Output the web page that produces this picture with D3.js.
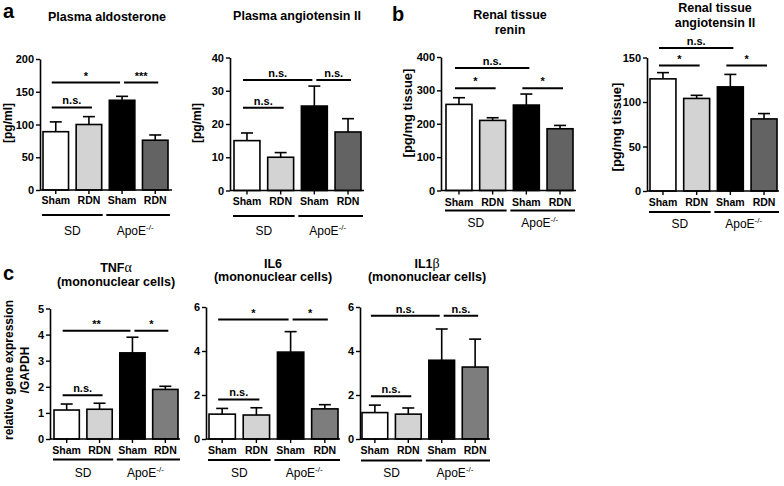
<!DOCTYPE html>
<html><head><meta charset="utf-8">
<script src="https://cdn.jsdelivr.net/npm/d3@7"></script>
<style>
body{margin:0;background:#fff}
text{font-family:"Liberation Sans",Arial,Helvetica,sans-serif}
</style>
</head><body>
<svg id="chart" width="784" height="486"></svg>
<script>
// ---------- data ----------
const categories = ["Sham", "RDN", "Sham", "RDN"];
const groups = ["SD", "ApoE"];

const aldoValues = [89, 100, 137, 76];
const aldoErrors = [15, 12, 6, 8];
const aldoTicks = [0, 50, 100, 150, 200];
const aldoSig = [
  {from: 0, to: 2, level: 164, label: "*"},
  {from: 2, to: 3, level: 164, label: "***"},
  {from: 0, to: 1, level: 126, label: "n.s."}
];

const angPlasmaValues = [15, 10, 25.4, 17.6];
const angPlasmaErrors = [2.3, 1.4, 6, 4];
const angPlasmaTicks = [0, 10, 20, 30, 40];
const angPlasmaSig = [
  {from: 0, to: 2, level: 33.2, label: "n.s."},
  {from: 2, to: 3, level: 33.2, label: "n.s."},
  {from: 0, to: 1, level: 24.9, label: "n.s."}
];

const reninValues = [258, 210, 256, 185];
const reninErrors = [20, 8, 33, 10];
const reninTicks = [0, 100, 200, 300, 400];
const reninSig = [
  {from: 0, to: 2, level: 367, label: "n.s."},
  {from: 0, to: 1, level: 306, label: "*"},
  {from: 2, to: 3, level: 306, label: "*"}
];

const angTissueValues = [126, 104, 117, 81];
const angTissueErrors = [7, 3.5, 14, 6];
const angTissueTicks = [0, 50, 100, 150];
const angTissueSig = [
  {from: 0, to: 2, level: 160.6, label: "n.s."},
  {from: 0, to: 1, level: 141, label: "*"},
  {from: 2, to: 3, level: 141, label: "*"}
];

const tnfValues = [1.11, 1.14, 3.3, 1.9];
const tnfErrors = [0.23, 0.23, 0.6, 0.12];
const tnfTicks = [0, 1, 2, 3, 4, 5];
const tnfSig = [
  {from: 0, to: 2, level: 4.15, label: "**"},
  {from: 2, to: 3, level: 4.15, label: "*"},
  {from: 0, to: 1, level: 1.68, label: "n.s."}
];

const il6Values = [1.13, 1.09, 3.95, 1.37];
const il6Errors = [0.26, 0.33, 0.93, 0.19];
const il6Ticks = [0, 2, 4, 6];
const il6Sig = [
  {from: 0, to: 2, level: 5.43, label: "*"},
  {from: 2, to: 3, level: 5.43, label: "*"},
  {from: 0, to: 1, level: 1.80, label: "n.s."}
];

const il1bValues = [1.2, 1.13, 3.58, 3.27];
const il1bErrors = [0.34, 0.28, 1.42, 1.27];
const il1bTicks = [0, 2, 4, 6];
const il1bSig = [
  {from: 0, to: 2, level: 5.6, label: "n.s."},
  {from: 2, to: 3, level: 5.6, label: "n.s."},
  {from: 0, to: 1, level: 1.94, label: "n.s."}
];

// ---------- layout ----------
const fillsAB = ["#ffffff", "#d3d3d3", "#000000", "#636363"];
const fillsC = ["#ffffff", "#d3d3d3", "#000000", "#7d7d7d"];

const panels = [
  {values: aldoValues, errors: aldoErrors, ticks: aldoTicks, sig: aldoSig, fills: fillsAB,
   ax: 40, xr: [43, 168], xEnd: 172, yr: [190, 59],
   title: [{t: "Plasma aldosterone", y: 21}], tx: 107,
   ylab: [{t: "[pg/ml]", x: 8}], ylabY: 123, ylabSize: 12,
   catPad: 3, groupLineY: 215, groupY: 235},
  {values: angPlasmaValues, errors: angPlasmaErrors, ticks: angPlasmaTicks, sig: angPlasmaSig, fills: fillsAB,
   ax: 230, xr: [234, 361], xEnd: 364, yr: [190.5, 57.5],
   title: [{t: "Plasma angiotensin II", y: 20}], tx: 297,
   ylab: [{t: "[pg/ml]", x: 197}], ylabY: 123, ylabSize: 12,
   catPad: 3, groupLineY: 216, groupY: 235},
  {values: reninValues, errors: reninErrors, ticks: reninTicks, sig: reninSig, fills: fillsAB,
   ax: 441, xr: [446, 573], xEnd: 576, yr: [190.5, 57],
   title: [{t: "Renal tissue", y: 19}, {t: "renin", y: 34}], tx: 510,
   ylab: [{t: "[pg/mg tissue]", x: 407}], ylabY: 113, ylabSize: 13,
   catPad: 4, groupLineY: 210.5, groupY: 227},
  {values: angTissueValues, errors: angTissueErrors, ticks: angTissueTicks, sig: angTissueSig, fills: fillsAB,
   ax: 647, xr: [650, 777], xEnd: 779, yr: [191, 57.5],
   title: [{t: "Renal tissue", y: 12}, {t: "angiotensin II", y: 27}], tx: 715,
   ylab: [{t: "[pg/mg tissue]", x: 616}], ylabY: 127, ylabSize: 13,
   catPad: 4, groupLineY: 212, groupY: 228},
  {values: tnfValues, errors: tnfErrors, ticks: tnfTicks, sig: tnfSig, fills: fillsC,
   ax: 50, xr: [54, 178], xEnd: 180, yr: [439, 308.5],
   title: [{t: "TNF", greek: "α", y: 272}, {t: "(mononuclear cells)", y: 286}], tx: 116,
   ylab: [{t: "relative gene expression", x: 9}, {t: "/GAPDH", x: 25}], ylabY: 370, ylabSize: 12,
   catPad: 4, groupLineY: 459.5, groupY: 477},
  {values: il6Values, errors: il6Errors, ticks: il6Ticks, sig: il6Sig, fills: fillsC,
   ax: 206, xr: [209, 338], xEnd: 340, yr: [439, 307],
   title: [{t: "IL6", y: 268}, {t: "(mononuclear cells)", y: 281}], tx: 273,
   ylab: [], catPad: 4, groupLineY: 460, groupY: 477},
  {values: il1bValues, errors: il1bErrors, ticks: il1bTicks, sig: il1bSig, fills: fillsC,
   ax: 360, xr: [362, 488], xEnd: 490, yr: [439, 307],
   title: [{t: "IL1", greek: "β", y: 268}, {t: "(mononuclear cells)", y: 281}], tx: 427,
   ylab: [], catPad: 4, groupLineY: 460.5, groupY: 477}
];

const panelLetters = [
  {t: "a", x: 3, y: 18},
  {t: "b", x: 392, y: 21},
  {t: "c", x: 3, y: 280}
];

const svg = d3.select("#chart");
const FONT = '"Liberation Sans", Arial, sans-serif';

function drawPanel(p) {
  const g = svg.append("g");
  const x = d3.scaleBand().domain(d3.range(categories.length)).range(p.xr).paddingInner(0.23).paddingOuter(0);
  const y = d3.scaleLinear().domain([0, p.ticks[p.ticks.length - 1]]).range(p.yr);
  const bw = x.bandwidth();
  const cx = i => x(i) + bw / 2;

  // error bars (upper only)
  const eb = g.append("g").attr("stroke", "#000").attr("stroke-width", 1.6);
  p.values.forEach((v, i) => {
    eb.append("line").attr("x1", cx(i)).attr("x2", cx(i)).attr("y1", y(v)).attr("y2", y(v + p.errors[i]));
    eb.append("line").attr("x1", cx(i) - 6).attr("x2", cx(i) + 6).attr("y1", y(v + p.errors[i])).attr("y2", y(v + p.errors[i]));
  });

  // bars
  g.append("g").selectAll("rect").data(p.values).join("rect")
    .attr("x", (d, i) => x(i)).attr("width", bw)
    .attr("y", d => y(d)).attr("height", d => y(0) - y(d))
    .attr("fill", (d, i) => p.fills[i]).attr("stroke", "#000").attr("stroke-width", 1.6);

  // y axis
  const ya = g.append("g").attr("transform", `translate(${p.ax},0)`)
    .call(d3.axisLeft(y).tickValues(p.ticks).tickFormat(d3.format("d")).tickSize(4).tickPadding(2).tickSizeOuter(0));
  ya.select(".domain").attr("stroke-width", 1.6);
  ya.selectAll(".tick line").attr("stroke-width", 1.4);
  ya.selectAll("text").attr("font-family", FONT).attr("font-weight", "bold").attr("font-size", 11).attr("fill", "#000");

  // x axis
  g.append("line").attr("x1", p.ax).attr("x2", p.xEnd).attr("y1", y(0)).attr("y2", y(0))
    .attr("stroke", "#000").attr("stroke-width", 1.6);
  const xa = g.append("g").attr("transform", `translate(0,${y(0)})`)
    .call(d3.axisBottom(x).tickSize(4).tickPadding(p.catPad).tickSizeOuter(0).tickFormat(i => categories[i]));
  xa.select(".domain").remove();
  xa.selectAll(".tick line").attr("stroke-width", 1.4);
  xa.selectAll("text").attr("font-family", FONT).attr("font-weight", "bold").attr("font-size", 10.5).attr("fill", "#000");

  // group lines and labels
  const grp = [
    {x1: x(0) - 1, x2: x(1) + bw + 1, label: groups[0]},
    {x1: x(2) - 3, x2: x(3) + bw + 2, label: groups[1]}
  ];
  grp.forEach((d, k) => {
    g.append("line").attr("x1", d.x1).attr("x2", d.x2).attr("y1", p.groupLineY).attr("y2", p.groupLineY)
      .attr("stroke", "#000").attr("stroke-width", 2);
    const t = g.append("text").attr("x", (d.x1 + d.x2) / 2 - (k === 1 ? 3 : 0)).attr("y", p.groupY)
      .attr("text-anchor", "middle").attr("font-size", 12).attr("font-family", FONT);
    t.append("tspan").text(d.label);
    if (k === 1) t.append("tspan").attr("dy", -5).attr("font-size", 8).text("-/-");
  });

  // significance brackets
  p.sig.forEach(s => {
    let x1 = cx(s.from) - 4, x2 = cx(s.to) + 3;
    if (p.sig.some(o => o !== s && o.level === s.level && o.from === s.to)) x2 = cx(s.to) - 2;
    if (p.sig.some(o => o !== s && o.level === s.level && o.to === s.from)) x1 = cx(s.from) + 2;
    g.append("line").attr("x1", x1).attr("x2", x2).attr("y1", y(s.level)).attr("y2", y(s.level))
      .attr("stroke", "#000").attr("stroke-width", 2);
    g.append("text").attr("x", (x1 + x2) / 2).attr("y", y(s.level) - 3)
      .attr("text-anchor", "middle").attr("font-size", 11).attr("font-weight", "bold")
      .attr("font-family", FONT).text(s.label);
  });

  // title
  p.title.forEach(tl => {
    const t = g.append("text").attr("x", p.tx).attr("y", tl.y).attr("text-anchor", "middle")
      .attr("font-size", 12.5).attr("font-weight", "bold").attr("font-family", FONT);
    t.append("tspan").text(tl.t);
    if (tl.greek) t.append("tspan").attr("font-family", '"Liberation Serif", "DejaVu Serif", serif')
      .attr("font-weight", "normal").attr("font-size", 14).text(tl.greek);
  });

  // y label
  p.ylab.forEach(l => {
    g.append("text").attr("transform", `translate(${l.x},${p.ylabY}) rotate(-90)`)
      .attr("text-anchor", "middle").attr("dy", "0.35em")
      .attr("font-size", p.ylabSize).attr("font-weight", "bold").attr("font-family", FONT).text(l.t);
  });
}

panels.forEach(drawPanel);

svg.selectAll("text.letter").data(panelLetters).join("text").attr("class", "letter")
  .attr("x", d => d.x).attr("y", d => d.y).attr("font-size", 20).attr("font-weight", "bold")
  .attr("font-family", FONT).text(d => d.t);
</script>
</body></html>
